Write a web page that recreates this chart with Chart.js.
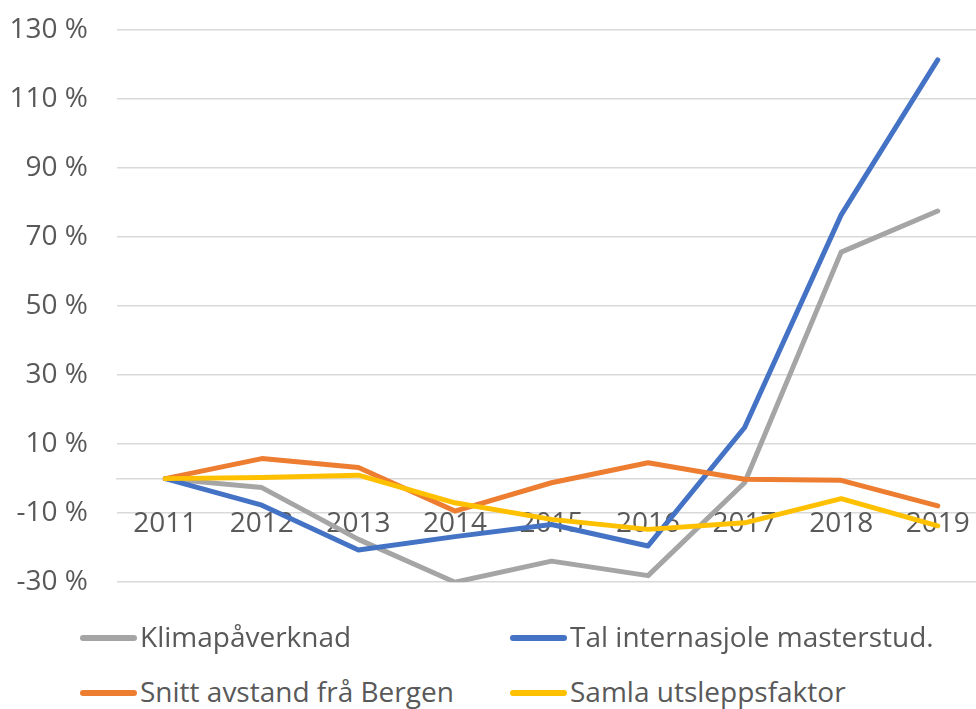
<!DOCTYPE html>
<html>
<head>
<meta charset="utf-8">
<script src="https://cdn.jsdelivr.net/npm/chart.js@4/dist/chart.umd.min.js"></script>
<style>
  html, body { margin: 0; padding: 0; background: #fff; overflow: hidden; }
  #wrap { position: relative; width: 976px; height: 709px; overflow: hidden; }
  #box { position: absolute; left: 0; top: -16px; width: 1000px; height: 644px; }
  .leg { position: absolute; font: 28px "Open Sans", sans-serif; color: #595959; white-space: nowrap; line-height: 1; }
  .leg span.sw { position: absolute; width: 57px; height: 6px; border-radius: 3px; top: -3px; }
  .leg span.tx { position: absolute; left: 60px; top: -16px; }
</style>
</head>
<body>
<div id="wrap">
  <div id="box"><canvas id="line-chart"></canvas></div>
  <div id="legend"></div>
</div>
<script>
// Chart data
var years = ['2011', '2012', '2013', '2014', '2015', '2016', '2017', '2018', '2019'];
var klima = [0, -2.6, -17.6, -30, -23.9, -28.1, -1.2, 65.6, 77.5];
var talStud = [0, -7.7, -20.7, -16.8, -13.3, -19.5, 14.8, 76.4, 121.3];
var snittAvstand = [0, 5.8, 3.2, -9.4, -1.2, 4.6, -0.2, -0.5, -7.9];
var samlaFaktor = [0, 0.3, 1.0, -7.0, -11.8, -14.7, -12.8, -5.8, -13.7];
var seriesNames = ['Klimapåverknad', 'Tal internasjole masterstud.', 'Snitt avstand frå Bergen', 'Samla utsleppsfaktor'];
var seriesColors = ['#A5A5A5', '#4472C4', '#ED7D31', '#FFC000'];
var yTicks = [-30, -10, 10, 30, 50, 70, 90, 110, 130];

var allData = [klima, talStud, snittAvstand, samlaFaktor];
var textColor = '#595959';
var gridColor = '#D9D9D9';
var fontFam = '"Open Sans", sans-serif';

var ctx = document.getElementById('line-chart').getContext('2d');
var lineChart = new Chart(ctx, {
  type: 'line',
  data: {
    labels: years,
    datasets: allData.map(function (d, i) {
      return {
        label: seriesNames[i],
        data: d,
        borderColor: seriesColors[i],
        backgroundColor: seriesColors[i],
        borderWidth: 5,
        pointRadius: 0,
        borderCapStyle: 'round',
        borderJoinStyle: 'round',
        tension: 0,
        order: 4 - i
      };
    })
  },
  options: {
    responsive: true,
    maintainAspectRatio: false,
    animation: false,
    layout: { padding: { top: 13, right: 14, bottom: 20, left: 0 } },
    plugins: {
      legend: { display: false },
      tooltip: { enabled: false }
    },
    scales: {
      x: {
        position: { y: 0 },
        offset: true,
        grid: { display: false, drawTicks: false },
        border: { display: true, color: gridColor, width: 1.5 },
        ticks: {
          color: textColor,
          font: { family: fontFam, size: 28 },
          padding: 29,
          maxRotation: 0,
          autoSkip: false
        }
      },
      y: {
        min: -30,
        max: 130,
        afterBuildTicks: function (s) {
          s.ticks = yTicks.map(function (v) { return { value: v }; });
        },
        afterFit: function (s) { s.width = 117; },
        grid: { color: gridColor, lineWidth: 1.5, drawTicks: false },
        border: { display: false },
        ticks: {
          color: textColor,
          font: { family: fontFam, size: 28 },
          padding: 29,
          callback: function (v) { return v + ' %'; }
        }
      }
    }
  }
});

// Legend in two columns, like the original
var legPos = [[80, 638], [510, 638], [80, 693], [510, 693]];
var legendDiv = document.getElementById('legend');
seriesNames.forEach(function (name, i) {
  var el = document.createElement('div');
  el.className = 'leg';
  el.style.left = legPos[i][0] + 'px';
  el.style.top = legPos[i][1] + 'px';
  el.innerHTML = '<span class="sw" style="background:' + seriesColors[i] + '"></span><span class="tx">' + name + '</span>';
  legendDiv.appendChild(el);
});
</script>
</body>
</html>
